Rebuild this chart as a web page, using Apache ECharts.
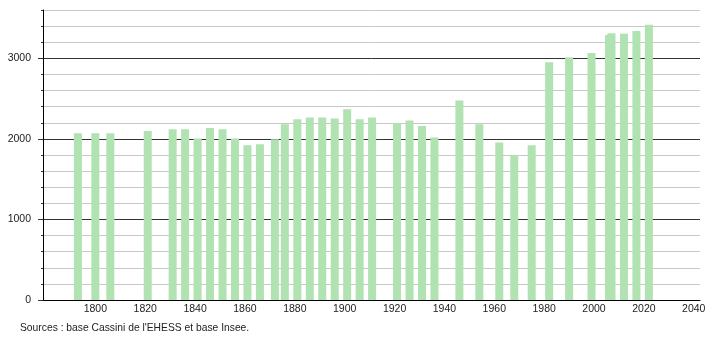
<!DOCTYPE html>
<html>
<head>
<meta charset="utf-8">
<script src="https://cdn.jsdelivr.net/npm/echarts@6/dist/echarts.min.js"></script>
<style>html,body{margin:0;padding:0;background:#fff}#c{width:710px;height:340px}</style>
</head>
<body>
<div id="c"></div>
<script>
const years = [1793,1800,1806,1821,1831,1836,1841,1846,1851,1856,1861,1866,1872,1876,1881,1886,1891,1896,1901,1906,1911,1921,1926,1931,1936,1946,1954,1962,1968,1975,1982,1990,1999,2006,2007,2012,2017,2022];
const population = [2070,2070,2070,2099,2120,2120,2004,2136,2120,2004,1920,1933,1995,2182,2244,2266,2266,2253,2369,2244,2266,2195,2228,2161,2016,2478,2182,1954,1796,1920,2951,3014,3067,3290,3312,3304,3338,3416];
const xTickLabels = [1800,1820,1840,1860,1880,1900,1920,1940,1960,1980,2000,2020,2040];
const yTickLabels = [0,1000,2000,3000];
const sourceText = "Sources : base Cassini de l'EHESS et base Insee.";

const chart = echarts.init(document.getElementById('c'), null, {renderer:'canvas'});
const font = 'Liberation Sans, Arial, sans-serif';
chart.setOption({
  animation:false,
  backgroundColor:'#fff',
  grid:{left:43,right:10,top:10,bottom:40,containLabel:false},
  xAxis:{
    type:'value', min:1779, max:2042.5,
    axisLine:{show:true,lineStyle:{color:'#000',width:1}},
    axisTick:{show:false},
    splitLine:{show:false},
    axisLabel:{customValues:xTickLabels,color:'#222',fontSize:10.5,fontFamily:font,margin:4,formatter:v=>String(v)}
  },
  yAxis:[
    {
      type:'value', min:0, max:3600, interval:200,
      axisLine:{show:true,lineStyle:{color:'#000',width:1}},
      axisTick:{show:true,length:2,lineStyle:{color:'#333'}},
      axisLabel:{show:false},
      splitLine:{show:true,lineStyle:{color:['#333','#c8c8c8','#c8c8c8','#c8c8c8','#c8c8c8'],width:1}}
    },
    {
      type:'value', min:0, max:3600, position:'left',
      axisLine:{show:false},
      axisTick:{show:true,customValues:yTickLabels,length:5,lineStyle:{color:'#333'}},
      axisLabel:{customValues:yTickLabels,color:'#222',fontSize:10.5,fontFamily:font,margin:12,formatter:v=>String(v)},
      splitLine:{show:false}
    }
  ],
  series:[{
    type:'bar',
    data:years.map((y,i)=>[y,population[i]]),
    barWidth:8,
    itemStyle:{color:'#b1e2b1'},
    z:3
  }],
  graphic:[{
    type:'text', left:20, top:323,
    style:{text:sourceText,fill:'#222',fontSize:10.3,fontFamily:font}
  }]
});
</script>
</body>
</html>
